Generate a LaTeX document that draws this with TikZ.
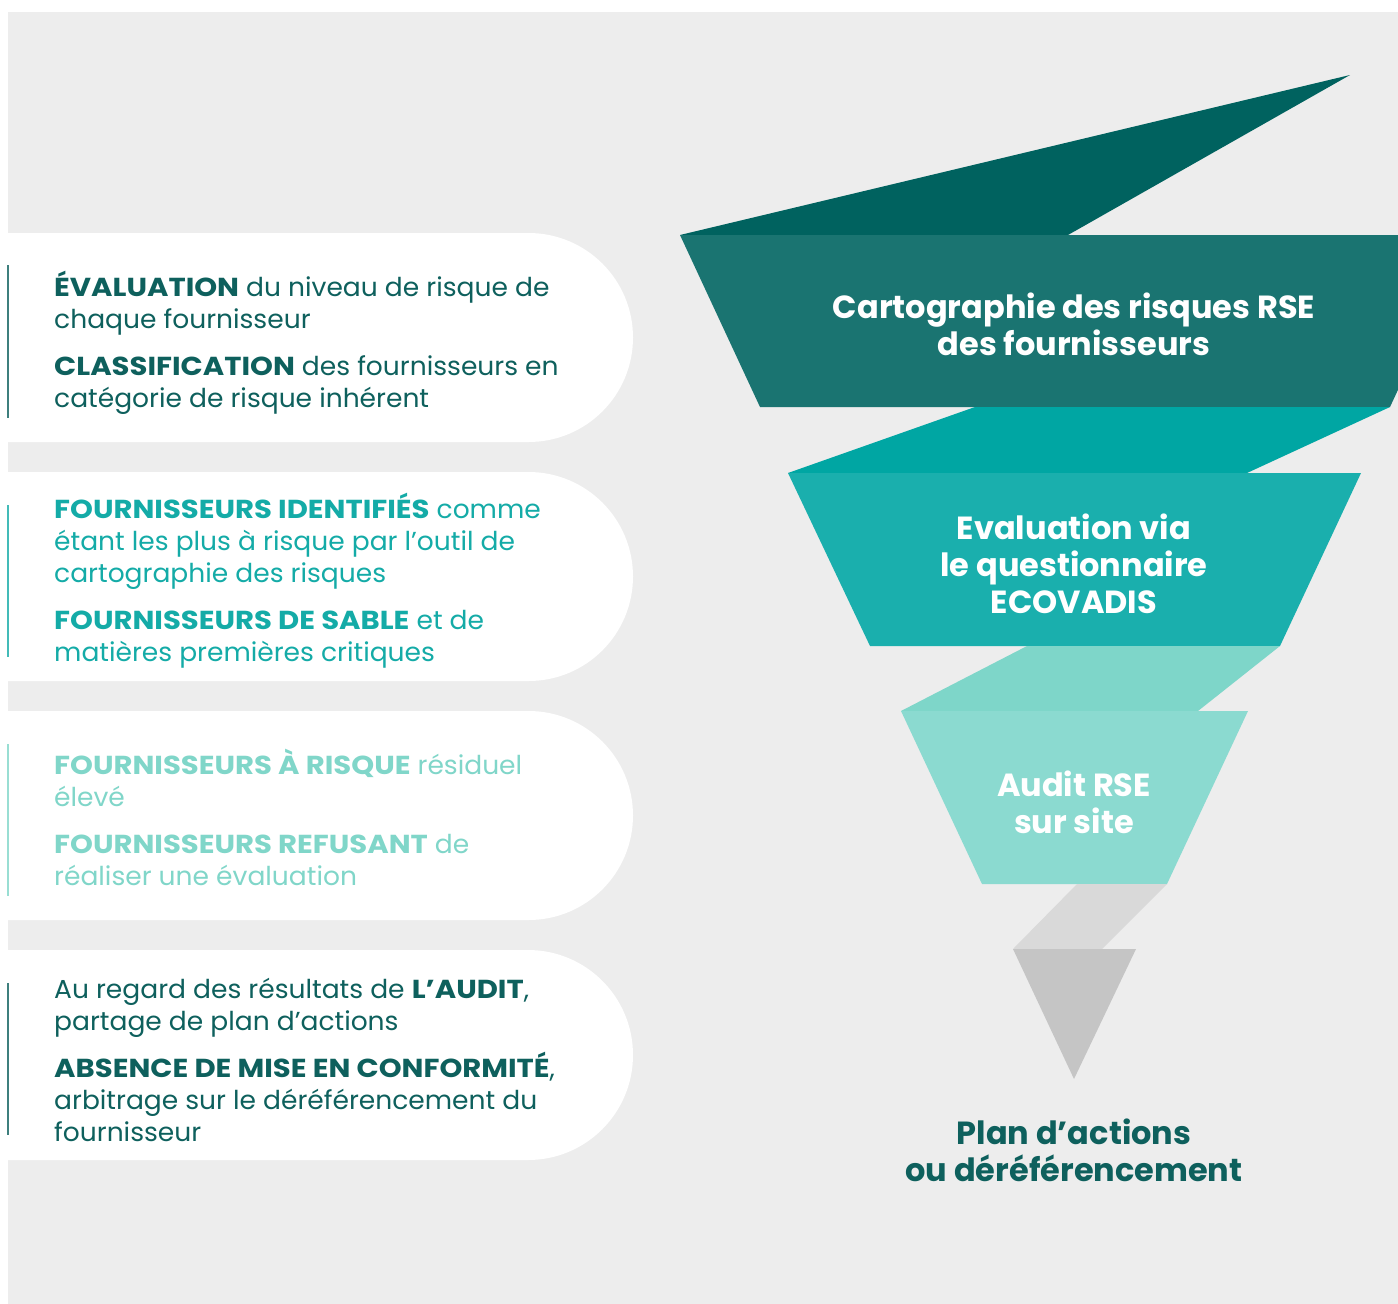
\documentclass[tikz,border=0pt]{standalone}
\usepackage{fontspec}
\setmainfont{Poppins}
\newfontfamily\cardfont{Poppins}[FakeStretch=1.02, BoldFeatures={FakeStretch=1.12}]
\definecolor{bg}{HTML}{EDEDED}
\definecolor{cdark}{HTML}{0E605D}
\definecolor{cmid}{HTML}{14ABA7}
\definecolor{clight}{HTML}{80D6C9}
\definecolor{foldA}{HTML}{00625F}
\definecolor{bandA}{HTML}{1A7471}
\definecolor{foldB}{HTML}{00A6A3}
\definecolor{bandB}{HTML}{1AAFAD}
\definecolor{foldC}{HTML}{7ED6C9}
\definecolor{bandC}{HTML}{8BDAD0}
\definecolor{foldD}{HTML}{D9D9D9}
\definecolor{tipD}{HTML}{C5C5C5}
\tikzset{
  card/.style={fill=white},
  sidebar/.style={line width=2pt, opacity=0.8},
  bodytext/.style={anchor=north west, inner sep=0pt, align=left, font=\cardfont\fontsize{26}{32}\selectfont},
  title/.style={anchor=north, inner sep=0pt, align=center, font=\fontsize{32}{37}\selectfont\bfseries, text=white}
}
\begin{document}
\begin{tikzpicture}[x=1pt,y=-1pt]
\useasboundingbox (0,0) rectangle (1398,1304);
\fill[bg] (8,12) rectangle (1398,1304);

% cards
\fill[card] (0,233) -- (528.5,233) arc[start angle=-90,end angle=90,radius=104.5] -- (0,442) -- cycle;
\fill[card] (0,472) -- (528.5,472) arc[start angle=-90,end angle=90,radius=104.5] -- (0,681) -- cycle;
\fill[card] (0,711) -- (528.5,711) arc[start angle=-90,end angle=90,radius=104.5] -- (0,920) -- cycle;
\fill[card] (0,950) -- (528,950) arc[start angle=-90,end angle=90,radius=105] -- (0,1160) -- cycle;

\draw[sidebar, cdark] (8,265) -- (8,418);
\draw[sidebar, cmid] (8,505) -- (8,657);
\draw[sidebar, clight] (8,744) -- (8,896);
\draw[sidebar, cdark] (8,983) -- (8,1135);

\node[bodytext, text=cdark] (t1) at (54,266) {\rule{0pt}{30pt}\textbf{ÉVALUATION} du niveau de risque de\\chaque fournisseur\\[15pt]\textbf{CLASSIFICATION} des fournisseurs en\\catégorie de risque inhérent};
\node[bodytext, text=cmid] (t2) at (54,488) {\rule{0pt}{30pt}\textbf{FOURNISSEURS IDENTIFIÉS} comme\\étant les plus à risque par l’outil de\\cartographie des risques\\[15pt]\textbf{FOURNISSEURS DE SABLE} et de\\matières premières critiques};
\node[bodytext, text=clight] (t3) at (54,744) {\rule{0pt}{30pt}\textbf{FOURNISSEURS À RISQUE} résiduel\\élevé\\[15pt]\textbf{FOURNISSEURS REFUSANT} de\\réaliser une évaluation};
\node[bodytext, text=cdark] (t4) at (54,968) {\rule{0pt}{30pt}Au regard des résultats de \textbf{L’AUDIT},\\partage de plan d’actions\\[14pt]\textbf{ABSENCE DE MISE EN CONFORMITÉ},\\arbitrage sur le déréférencement du\\fournisseur};

% funnel
\fill[foldA] (680,235) -- (1350,75) -- (1068,235) -- cycle;
\fill[bandA] (680,235) -- (1470,235) -- (1390,407) -- (760,407) -- cycle;
\fill[foldB] (975,407) -- (1390,407) -- (1247,473) -- (788,473) -- cycle;
\fill[bandB] (788,473) -- (1361,473) -- (1280,646) -- (870,646) -- cycle;
\fill[foldC] (1027,646) -- (1280,646) -- (1198,711) -- (901,711) -- cycle;
\fill[bandC] (901,711) -- (1248,711) -- (1167,884) -- (982,884) -- cycle;
\fill[foldD] (1077,884) -- (1167,884) -- (1102,949) -- (1013,949) -- cycle;
\fill[tipD] (1013,949) -- (1136,949) -- (1074,1079) -- cycle;

\node[title] (s1) at (1074,283) {\rule{0pt}{35pt}Cartographie des risques RSE\\des fournisseurs};
\node[title] (s2) at (1074,504) {\rule{0pt}{35pt}Evaluation via\\le questionnaire\\ECOVADIS};
\node[title] (s3) at (1074,761) {\rule{0pt}{35pt}Audit RSE\\sur site};
\node[title, text=cdark] (s4) at (1074,1109) {\rule{0pt}{35pt}Plan d’actions\\ou déréférencement};
\end{tikzpicture}
\end{document}
